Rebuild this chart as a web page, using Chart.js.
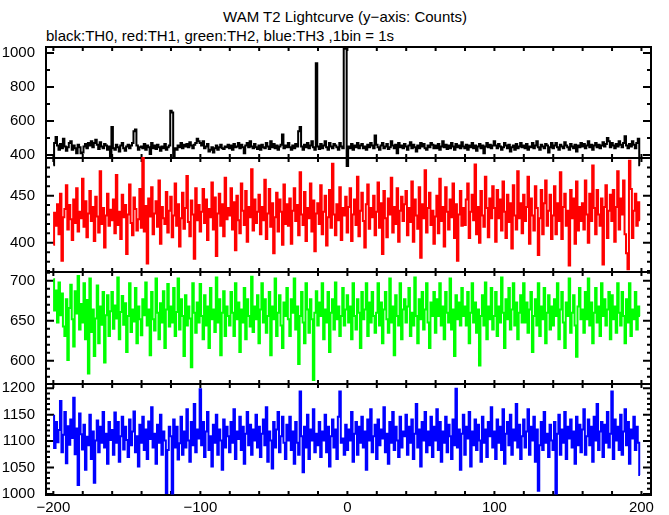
<!DOCTYPE html>
<html>
<head>
<meta charset="utf-8">
<script src="https://cdn.jsdelivr.net/npm/chart.js@4"></script>
<style>
  body { margin: 0; background: #fff; }
  #wrap { position: relative; width: 669px; height: 515px; background: #fff; font-family: "Liberation Sans", Arial, sans-serif; color: #000; }
  #wrap canvas { position: absolute; left: 0; top: 0; }
  #title { position: absolute; left: 0; width: 690px; top: 8px; text-align: center; font-size: 15px; }
  #sub { position: absolute; left: 46px; top: 27px; font-size: 15px; }
</style>
</head>
<body>
<div id="wrap">
  <div id="title">WAM T2 Lightcurve (y−axis: Counts)</div>
  <div id="sub">black:TH0, red:TH1, green:TH2, blue:TH3 ,1bin = 1s</div>
  <canvas id="c0" width="669" height="515"></canvas>
  <canvas id="c1" width="669" height="515"></canvas>
  <canvas id="c2" width="669" height="515"></canvas>
  <canvas id="c3" width="669" height="515"></canvas>
</div>
<script>
// time bins: -200 .. 199 s, 1 s per bin
const binStart = -200;

// TH0 counts (black)
const th0 = [
  340, 470, 505, 455, 430, 465, 440, 495, 450, 425, 445, 470, 480, 430, 455, 440, 410, 460, 445, 410,
  415, 450, 465, 440, 470, 455, 480, 445, 470, 490, 460, 435, 475, 450, 440, 465, 455, 430, 450, 385,
  565, 440, 430, 460, 445, 420, 455, 470, 440, 425, 450, 460, 440, 455, 470, 540, 550, 455, 430, 445,
  450, 440, 465, 430, 455, 445, 405, 470, 440, 455, 435, 460, 445, 425, 450, 440, 465, 430, 445, 455,
  660, 650, 390, 440, 430, 455, 445, 470, 440, 460, 450, 465, 445, 475, 455, 440, 460, 470, 495, 480,
  470, 455, 480, 440, 450, 465, 420, 430, 445, 415, 440, 455, 430, 445, 460, 440, 435, 450, 445, 460,
  440, 455, 430, 465, 445, 450, 470, 440, 460, 445, 410, 455, 470, 445, 480, 450, 440, 465, 445, 435,
  455, 430, 460, 445, 440, 470, 450, 435, 480, 445, 465, 440, 455, 430, 450, 460, 520, 440, 455, 445,
  470, 445, 430, 455, 440, 465, 450, 540, 565, 450, 430, 460, 445, 470, 440, 455, 480, 445, 430, 940,
  450, 435, 465, 440, 455, 480, 445, 430, 470, 450, 440, 465, 455, 445, 430, 470, 450, 440, 1025, 1030,
  335, 450, 440, 465, 430, 455, 445, 470, 440, 455, 465, 440, 450, 430, 460, 445, 470, 455, 440, 515,
  460, 445, 430, 455, 470, 440, 450, 465, 435, 445, 480, 455, 440, 460, 410, 470, 445, 455, 440, 465,
  450, 430, 455, 475, 440, 460, 445, 420, 455, 440, 470, 450, 465, 440, 430, 455, 445, 470, 460, 440,
  455, 440, 465, 430, 450, 480, 445, 460, 435, 455, 440, 470, 450, 430, 465, 445, 455, 440, 475, 450,
  440, 460, 430, 455, 445, 470, 440, 455, 425, 450, 465, 440, 455, 410, 450, 470, 445, 460, 440, 455,
  480, 455, 440, 465, 450, 430, 445, 470, 455, 440, 460, 420, 445, 455, 430, 465, 440, 450, 470, 445,
  455, 440, 465, 430, 450, 445, 470, 440, 455, 480, 445, 430, 460, 450, 440, 465, 455, 415, 445, 470,
  440, 455, 470, 445, 430, 460, 450, 440, 475, 455, 445, 430, 465, 450, 440, 460, 420, 455, 445, 470,
  450, 465, 440, 455, 480, 445, 460, 430, 455, 470, 445, 460, 440, 455, 475, 450, 465, 500, 480, 445,
  470, 455, 440, 465, 450, 480, 460, 445, 470, 510, 455, 440, 465, 450, 480, 460, 440, 470, 495, 340
];

// TH1 counts (red)
const th1 = [
  398, 432, 418, 441, 409, 452, 381, 427, 436, 461, 414, 440, 425, 403, 446, 421, 458, 412, 433, 426,
  468, 417, 444, 406, 431, 455, 423, 438, 402, 449, 428, 411, 476, 420, 437, 395, 429, 452, 418, 435,
  424, 446, 410, 472, 419, 433, 404, 451, 427, 440, 388, 430, 462, 421, 408, 448, 436, 413, 425, 457,
  416, 490, 412, 439, 378, 447, 428, 459, 409, 431, 444, 417, 466, 399, 438, 426, 420, 454, 411, 434,
  449, 406, 429, 463, 418, 441, 396, 426, 453, 415, 437, 471, 422, 407, 445, 430, 383, 458, 424, 440,
  412, 433, 457, 421, 446, 403, 436, 427, 464, 414, 448, 386, 431, 452, 418, 441, 407, 469, 425, 437,
  429, 458, 414, 443, 392, 450, 424, 410, 463, 434, 419, 455, 401, 438, 427, 478, 413, 446, 421, 433,
  451, 409, 438, 424, 467, 404, 431, 457, 417, 442, 389, 427, 453, 412, 446, 433, 398, 462, 420, 441,
  418, 447, 399, 434, 458, 423, 440, 408, 475, 430, 419, 454, 402, 437, 426, 463, 412, 445, 391, 431,
  442, 420, 461, 409, 433, 450, 397, 427, 456, 416, 484, 430, 408, 441, 424, 459, 403, 437, 429, 449,
  411, 438, 458, 402, 430, 446, 419, 470, 407, 434, 453, 423, 395, 441, 462, 415, 437, 427, 450, 408,
  433, 464, 416, 442, 388, 455, 426, 406, 447, 430, 469, 411, 438, 420, 458, 401, 434, 449, 423, 441,
  455, 408, 437, 422, 465, 401, 446, 429, 415, 459, 384, 441, 426, 477, 411, 437, 453, 419, 434, 399,
  428, 450, 410, 468, 423, 438, 396, 459, 433, 414, 446, 427, 463, 405, 441, 381, 430, 455, 418, 437,
  419, 446, 463, 405, 433, 451, 424, 483, 409, 438, 400, 455, 429, 417, 470, 437, 406, 447, 426, 460,
  437, 401, 456, 426, 446, 413, 465, 433, 405, 451, 422, 442, 394, 461, 429, 414, 476, 426, 442, 410,
  451, 423, 438, 470, 399, 447, 429, 413, 460, 437, 387, 426, 456, 409, 442, 466, 418, 434, 451, 404,
  429, 460, 409, 442, 423, 475, 404, 438, 452, 418, 434, 376, 456, 426, 447, 399, 465, 413, 438, 423,
  442, 414, 466, 430, 400, 452, 423, 482, 437, 409, 456, 430, 418, 447, 377, 438, 461, 405, 434, 451,
  423, 456, 401, 438, 476, 414, 447, 430, 466, 409, 389, 372, 487, 457, 405, 434, 452, 418, 443, 424
];

// TH2 counts (green)
const th2 = [
  702, 663, 688, 648, 698, 657, 684, 643, 631, 677, 601, 666, 695, 652, 618, 687, 659, 706, 639, 671,
  648, 697, 627, 676, 584, 703, 636, 664, 606, 653, 694, 622, 668, 645, 686, 598, 657, 682, 631, 662,
  686, 640, 669, 653, 704, 627, 661, 681, 645, 672, 611, 656, 697, 636, 664, 649, 691, 622, 668, 652,
  632, 677, 657, 698, 644, 664, 607, 686, 652, 638, 703, 660, 627, 672, 648, 687, 616, 664, 696, 643,
  668, 648, 691, 631, 661, 703, 639, 677, 656, 606, 682, 644, 668, 653, 592, 697, 660, 635, 673, 648,
  696, 656, 627, 682, 644, 668, 616, 691, 652, 664, 636, 704, 648, 677, 607, 660, 687, 631, 668, 656,
  644, 686, 660, 631, 697, 652, 673, 611, 664, 648, 691, 627, 677, 656, 643, 705, 636, 668, 652, 682,
  622, 664, 697, 648, 677, 635, 656, 686, 607, 668, 652, 703, 631, 660, 682, 644, 616, 673, 656, 691,
  652, 631, 677, 660, 703, 639, 668, 596, 656, 686, 648, 622, 697, 664, 635, 677, 652, 576, 660, 687,
  644, 673, 656, 697, 627, 664, 648, 686, 611, 660, 677, 639, 698, 652, 668, 631, 656, 691, 644, 664,
  682, 648, 668, 627, 697, 656, 639, 677, 660, 616, 686, 652, 664, 697, 631, 673, 648, 686, 656, 635,
  660, 697, 644, 673, 622, 664, 686, 652, 635, 703, 648, 668, 607, 682, 656, 644, 697, 627, 664, 677,
  648, 668, 691, 631, 660, 644, 704, 656, 622, 677, 652, 686, 639, 664, 697, 648, 616, 673, 656, 686,
  635, 677, 656, 697, 644, 668, 627, 686, 660, 648, 703, 639, 664, 606, 682, 652, 673, 644, 691, 656,
  668, 644, 686, 622, 660, 697, 648, 673, 635, 664, 594, 656, 682, 644, 698, 627, 668, 652, 691, 639,
  656, 686, 631, 668, 648, 704, 660, 616, 677, 652, 691, 639, 664, 697, 644, 673, 627, 660, 682, 648,
  697, 648, 673, 635, 664, 686, 611, 656, 677, 644, 697, 631, 668, 652, 691, 622, 660, 682, 639, 668,
  644, 677, 656, 697, 627, 664, 686, 648, 616, 673, 656, 703, 635, 660, 682, 644, 605, 668, 691, 652,
  664, 635, 686, 652, 703, 644, 673, 622, 660, 691, 648, 668, 631, 697, 656, 677, 644, 664, 686, 627,
  682, 652, 668, 635, 697, 660, 644, 686, 656, 622, 677, 648, 697, 631, 664, 652, 686, 639, 668, 656
];

// TH3 counts (blue)
const th3 = [
  1148, 1087, 1136, 1098, 1121, 1176, 1079, 1112, 1155, 1058, 1128, 1093, 1141, 1106, 1182, 1075, 1124, 1017, 1152, 1113,
  1084, 1131, 1046, 1108, 1092, 1150, 1066, 1118, 1021, 1101, 1139, 1079, 1127, 1097, 1155, 1088, 1114, 1057, 1136, 1102,
  1121, 1074, 1154, 1097, 1136, 1061, 1109, 1146, 1084, 1127, 1102, 1070, 1141, 1092, 1118, 1156, 1079, 1109, 1052, 1131,
  1097, 1146, 1083, 1122, 1066, 1137, 1104, 1164, 1088, 1114, 1057, 1131, 1097, 1150, 1074, 1118, 1101, 1002, 1083, 1127,
  1109, 1001, 1141, 1088, 1127, 1065, 1096, 1146, 1074, 1118, 1088, 1160, 1101, 1061, 1136, 1092, 1170, 1079, 1122, 1105,
  1198, 1092, 1136, 1070, 1118, 1155, 1083, 1109, 1052, 1131, 1097, 1150, 1074, 1122, 1101, 1046, 1141, 1088, 1127, 1109,
  1079, 1136, 1097, 1160, 1066, 1118, 1104, 1146, 1083, 1127, 1057, 1114, 1155, 1092, 1131, 1074, 1122, 1101, 1150, 1088,
  1127, 1070, 1114, 1141, 1092, 1164, 1061, 1118, 1101, 1048, 1136, 1088, 1122, 1155, 1079, 1109, 1146, 1097, 1066, 1131,
  1101, 1146, 1083, 1118, 1057, 1136, 1097, 1074, 1194, 1109, 1041, 1127, 1088, 1150, 1066, 1122, 1101, 1160, 1079, 1114,
  1092, 1136, 1070, 1118, 1101, 1150, 1079, 1127, 1052, 1109, 1141, 1088, 1122, 1066, 1146, 1194, 1097, 1105, 1074, 1131,
  1083, 1122, 1101, 1155, 1061, 1114, 1136, 1074, 1127, 1097, 1146, 1088, 1118, 1046, 1141, 1101, 1160, 1079, 1109, 1131,
  1066, 1141, 1092, 1122, 1105, 1164, 1079, 1114, 1057, 1136, 1097, 1155, 1083, 1127, 1101, 1070, 1146, 1088, 1118, 1109,
  1150, 1074, 1127, 1097, 1141, 1066, 1114, 1170, 1088, 1122, 1052, 1136, 1101, 1155, 1079, 1118, 1092, 1146, 1070, 1127,
  1101, 1160, 1083, 1136, 1061, 1118, 1097, 1146, 1079, 1131, 1109, 1066, 1141, 1092, 1199, 1088, 1122, 1046, 1114, 1150,
  1074, 1127, 1105, 1155, 1052, 1118, 1092, 1141, 1083, 1131, 1101, 1061, 1146, 1097, 1122, 1070, 1136, 1109, 1164, 1088,
  1118, 1066, 1141, 1097, 1127, 1083, 1160, 1057, 1114, 1136, 1092, 1150, 1074, 1122, 1101, 1170, 1088, 1131, 1066, 1109,
  1141, 1088, 1118, 1160, 1074, 1127, 1101, 1146, 1061, 1122, 1006, 1092, 1136, 1083, 1155, 1097, 1114, 1070, 1131, 1101,
  1083, 1136, 1001, 1114, 1150, 1074, 1122, 1097, 1155, 1066, 1127, 1105, 1141, 1088, 1118, 1057, 1146, 1092, 1131, 1079,
  1122, 1160, 1074, 1109, 1141, 1092, 1127, 1061, 1146, 1101, 1170, 1083, 1118, 1136, 1070, 1131, 1097, 1155, 1088, 1114,
  1194, 1066, 1141, 1101, 1127, 1083, 1150, 1074, 1118, 1160, 1092, 1136, 1057, 1122, 1105, 1146, 1083, 1127, 1097, 1036
];

// tick labels
const xLabelTicks = [-200, -100, 0, 100, 200];
const yTicks0 = [400, 600, 800, 1000];
const yTicks1 = [400, 450];
const yTicks2 = [600, 650, 700];
const yTicks3 = [1000, 1050, 1100, 1150, 1200];

const panels = [
  { id: "c0", values: th0, color: "#000000", min: 382, max: 1035, ticks: yTicks0, minor: 100, major: 200, top: 47, bottom: 158 },
  { id: "c1", values: th1, color: "#ff0000", min: 369, max: 490, ticks: yTicks1, minor: 10, major: 50, top: 158, bottom: 272 },
  { id: "c2", values: th2, color: "#00ff00", min: 571, max: 711, ticks: yTicks2, minor: 10, major: 50, top: 272, bottom: 384 },
  { id: "c3", values: th3, color: "#0000ff", min: 998, max: 1208, ticks: yTicks3, minor: 10, major: 50, top: 384, bottom: 496, showX: true },
];

const font = { family: "'Liberation Sans', Arial, sans-serif", size: 15 };

// frame box with inward ticks on all four sides
const framePlugin = {
  id: "frame",
  beforeDatasetsDraw(chart, args, opts) {
    const { ctx, chartArea: a, scales } = chart;
    ctx.save();
    ctx.strokeStyle = "#000";
    ctx.lineWidth = 2;
    ctx.strokeRect(a.left, a.top, a.right - a.left, a.bottom - a.top);
    ctx.beginPath();
    for (let v = -200; v <= 200; v += 20) {
      const x = scales.x.getPixelForValue(v);
      ctx.moveTo(x, a.top); ctx.lineTo(x, a.top + 4);
      ctx.moveTo(x, a.bottom); ctx.lineTo(x, a.bottom - 4);
    }
    const y = scales.y;
    for (let v = Math.ceil(y.min / opts.minor) * opts.minor; v <= y.max; v += opts.minor) {
      const py = y.getPixelForValue(v);
      const len = v % opts.major === 0 ? 8 : 4;
      ctx.moveTo(a.left, py); ctx.lineTo(a.left + len, py);
      ctx.moveTo(a.right, py); ctx.lineTo(a.right - len, py);
    }
    ctx.stroke();
    ctx.restore();
  },
};

function makePanel(p) {
  const points = p.values.map((v, i) => ({ x: binStart + i, y: v }));
  new Chart(document.getElementById(p.id), {
    type: "line",
    data: {
      datasets: [
        {
          data: points,
          borderColor: p.color,
          borderWidth: 2,
          pointRadius: 0,
          stepped: "middle",
          clip: false,
        },
      ],
    },
    options: {
      responsive: false,
      animation: false,
      events: [],
      layout: { padding: { top: p.top, bottom: p.showX ? 0 : 515 - p.bottom, left: 0, right: 18 } },
      scales: {
        x: {
          type: "linear",
          min: -205,
          max: 206.5,
          display: !!p.showX,
          grid: { display: false, drawTicks: false },
          border: { display: false },
          afterFit: (s) => { if (p.showX) s.height = 515 - p.bottom; },
          afterBuildTicks: (s) => { s.ticks = xLabelTicks.map((v) => ({ value: v })); },
          ticks: {
            color: "#000",
            font,
            padding: 4,
            maxRotation: 0,
            callback: (v) => String(v).replace("-", "\u2212"),
          },
        },
        y: {
          min: p.min,
          max: p.max,
          grid: { display: false, drawTicks: false },
          border: { display: false },
          afterFit: (s) => { s.width = 46; },
          afterBuildTicks: (s) => { s.ticks = p.ticks.map((v) => ({ value: v })); },
          ticks: { color: "#000", font, padding: 11, callback: (v) => String(v) },
        },
      },
      plugins: {
        legend: { display: false },
        tooltip: { enabled: false },
        frame: { minor: p.minor, major: p.major },
      },
    },
    plugins: [framePlugin],
  });
}

panels.forEach(makePanel);
</script>
</body>
</html>
